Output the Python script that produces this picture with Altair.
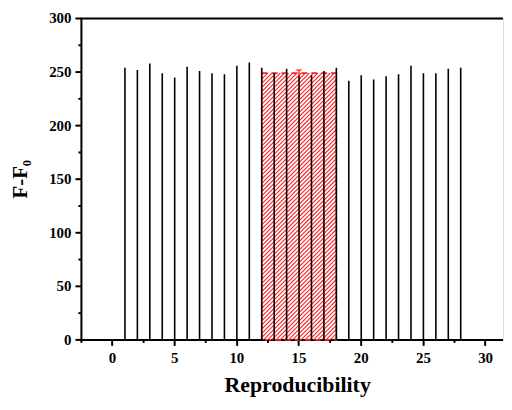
import altair as alt
import pandas as pd

# ---- data ----
runs = list(range(1, 29))
signal = [254, 252, 258, 249, 245, 255, 251, 249, 248, 256, 259, 254,
          249, 253, 247, 247, 251, 254, 242, 247, 243, 246, 248, 256,
          249, 249, 253, 254]
mean_x = [15]
mean_lo = [12]
mean_hi = [18]
mean_val = [249]
mean_err = [3]
x_major = [0, 5, 10, 15, 20, 25, 30]
x_minor = [-2.5, 2.5, 7.5, 12.5, 17.5, 22.5, 27.5]
y_major = [0, 50, 100, 150, 200, 250, 300]
y_minor = [25, 75, 125, 175, 225, 275]

FONT = "Liberation Serif"
W, H = 425, 324
XDOM = [-2.5, 31.4]
YDOM = [0, 300]
RED = "#ff2020"

lines_df = pd.DataFrame({"run": runs, "signal": signal})
mean_df = pd.DataFrame({"x": mean_x, "lo": mean_lo, "hi": mean_hi,
                        "v": mean_val, "e": mean_err})
mean_df["top"] = mean_df["v"] + mean_df["e"]
mean_df["bot"] = mean_df["v"] - mean_df["e"]

# ---- hatch lines (45 degrees on screen), derived from the bar's extent ----
px_per_x = W / (XDOM[1] - XDOM[0])
px_per_y = H / (YDOM[1] - YDOM[0])
bw = (mean_hi[0] - mean_lo[0]) * px_per_x
bh = mean_val[0] * px_per_y
step = 4.2
segs = []
c = -bw + step / 2
while c < bh:
    xa = max(0.0, -c)
    xb = min(bw, bh - c)
    if xb > xa:
        segs.append({
            "hx": mean_lo[0] + xa / px_per_x, "hy": (xa + c) / px_per_y,
            "hx2": mean_lo[0] + xb / px_per_x, "hy2": (xb + c) / px_per_y,
        })
    c += step
hatch_df = pd.DataFrame(segs)

xscale = alt.Scale(domain=XDOM, nice=False, zero=False)
yscale = alt.Scale(domain=YDOM, nice=False)

x_axis = alt.Axis(values=x_major, title="Reproducibility", format="d",
                  labelFont=FONT, labelFontSize=15, labelFontWeight="bold",
                  labelColor="black", labelPadding=5,
                  titleFont=FONT, titleFontSize=22, titleFontWeight="bold",
                  titleColor="black", titlePadding=10, titleX=218,
                  domainColor="black", domainWidth=2, domainOpacity=1,
                  tickColor="black", tickOpacity=1, translate=0,
                  tickWidth=2, tickSize=6, grid=False)
y_axis = alt.Axis(values=y_major, title="F-F\u2080", format="d",
                  labelFont=FONT, labelFontSize=15, labelFontWeight="bold",
                  labelColor="black", labelPadding=4,
                  titleFont=FONT, titleFontSize=21, titleFontWeight="bold",
                  titleColor="black", titlePadding=18,
                  domainColor="black", domainWidth=2, domainOpacity=1,
                  tickColor="black", tickOpacity=1, translate=0,
                  tickWidth=2, tickSize=6, grid=False)

hatch = alt.Chart(hatch_df).mark_rule(color=RED, strokeWidth=1.1).encode(
    x=alt.X("hx:Q", scale=xscale, axis=x_axis),
    y=alt.Y("hy:Q", scale=yscale, axis=y_axis),
    x2="hx2:Q", y2="hy2:Q",
)

bar = alt.Chart(mean_df).mark_rect(
    fill=None, stroke=RED, strokeWidth=1.6, strokeDash=[6, 4]
).encode(
    x=alt.X("lo:Q", scale=xscale),
    x2="hi:Q",
    y=alt.Y("v:Q", scale=yscale),
    y2=alt.datum(0),
)

minor_x = alt.Chart(pd.DataFrame({"m": x_minor})).mark_rule(
    color="black", strokeWidth=2, opacity=1
).encode(x=alt.X("m:Q", scale=xscale), y=alt.value(H), y2=alt.value(H + 3))
minor_y = alt.Chart(pd.DataFrame({"m": y_minor})).mark_rule(
    color="black", strokeWidth=2, opacity=1
).encode(y=alt.Y("m:Q", scale=yscale), x=alt.value(0), x2=alt.value(-3))

rules = alt.Chart(lines_df).mark_rule(color="black", strokeWidth=1.6,
                                      opacity=1).encode(
    x=alt.X("run:Q", scale=xscale),
    y=alt.Y("signal:Q", scale=yscale),
    y2=alt.datum(0),
)

err = alt.Chart(mean_df).mark_rule(color=RED, strokeWidth=1.5).encode(
    x=alt.X("x:Q", scale=xscale),
    y=alt.Y("bot:Q", scale=yscale),
    y2="top:Q",
)
caps = alt.Chart(mean_df).mark_tick(color=RED, thickness=1.5,
                                    size=6, orient="horizontal").encode(
    x=alt.X("x:Q", scale=xscale),
    y=alt.Y("top:Q", scale=yscale),
)

top_border = alt.Chart(mean_df).mark_rule(color="black", strokeWidth=2,
                                          opacity=1).encode(
    x=alt.value(-1), x2=alt.value(W), y=alt.value(0)
)

chart = alt.layer(hatch, bar, rules, err, caps, minor_x, minor_y,
                  top_border).properties(
    width=W, height=H, padding={"left": 2, "top": 2, "right": 0, "bottom": 2}
).configure_view(stroke=None, clip=False).configure(background="white")

chart.save("out.html", embed_options={"renderer": "svg", "actions": False})
